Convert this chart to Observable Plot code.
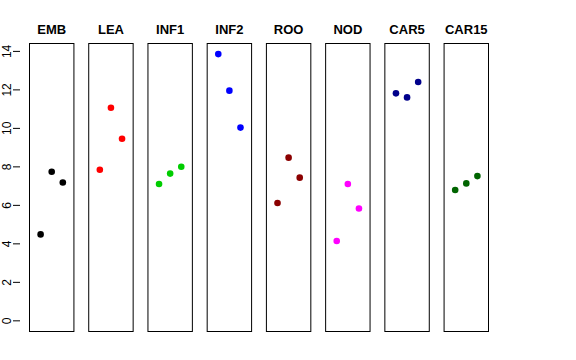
<!DOCTYPE html>
<html>
<head>
<meta charset="utf-8">
<script src="https://cdn.jsdelivr.net/npm/d3@7"></script>
<script src="https://cdn.jsdelivr.net/npm/@observablehq/plot@0.6"></script>
<style>
  html, body { margin: 0; padding: 0; background: #fff; }
</style>
</head>
<body>
<div id="chart"></div>
<script>
const categories = ["EMB", "LEA", "INF1", "INF2", "ROO", "NOD", "CAR5", "CAR15"];
const rep1 = [4.49, 7.85, 7.11, 13.86, 6.12, 4.15, 11.82, 6.80];
const rep2 = [7.75, 11.07, 7.65, 11.96, 8.48, 7.11, 11.61, 7.14];
const rep3 = [7.19, 9.46, 8.01, 10.04, 7.44, 5.84, 12.41, 7.52];
const colors = ["#000000", "#FF0000", "#00CD00", "#0000FF", "#8B0000", "#FF00FF", "#00008B", "#006400"];
const yTicks = [0, 2, 4, 6, 8, 10, 12, 14];

const data = [];
categories.forEach((c, i) => {
  [rep1, rep2, rep3].forEach((r, j) => data.push({cat: c, rep: j + 1, value: r[i]}));
});

const chart = Plot.plot({
  width: 576,
  height: 360,
  marginTop: 43,
  marginBottom: 29,
  marginLeft: 29,
  marginRight: 88,
  style: {fontFamily: "'Liberation Sans', Arial, sans-serif", color: "#000", background: "#fff"},
  fx: {domain: categories, paddingInner: 0.25, paddingOuter: 0, round: false, label: null},
  x: {domain: [0, 4], axis: null},
  y: {domain: [-0.554, 14.41], axis: null},
  color: {domain: categories, range: colors},
  marks: [
    Plot.frame({stroke: "#000", strokeWidth: 1}),
    Plot.axisFx({anchor: "top", tickSize: 0, tickPadding: 10, fontSize: 13, fontWeight: "bold", label: null}),
    Plot.axisY({ticks: yTicks, tickSize: 7, tickRotate: -90, textAnchor: "middle", tickPadding: 3, dx: -9, fontSize: 12, label: null}),
    Plot.dot(data, {fx: "cat", x: "rep", y: "value", fill: "cat", r: 3.3, stroke: null})
  ]
});
document.getElementById("chart").appendChild(chart);
</script>
</body>
</html>
